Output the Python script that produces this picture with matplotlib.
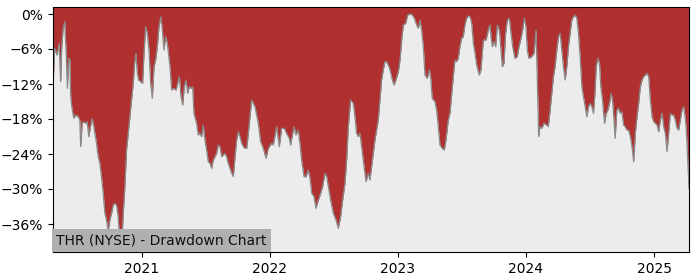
import matplotlib
matplotlib.use("Agg")
import matplotlib.pyplot as plt
import matplotlib.dates as mdates
from matplotlib.ticker import FuncFormatter
import datetime as dt

# time as fractional years, drawdown in percent
years = [
    2020.307, 2020.320, 2020.333, 2020.339, 2020.354, 2020.367, 2020.375, 2020.385, 2020.398, 2020.411,
    2020.419, 2020.430, 2020.438, 2020.445, 2020.453, 2020.469, 2020.484, 2020.503, 2020.516, 2020.523,
    2020.534, 2020.547, 2020.563, 2020.573, 2020.586, 2020.599, 2020.612, 2020.625, 2020.646, 2020.659,
    2020.672, 2020.685, 2020.698, 2020.711, 2020.724, 2020.737, 2020.750, 2020.763, 2020.776, 2020.789,
    2020.802, 2020.815, 2020.828, 2020.841, 2020.854, 2020.867, 2020.880, 2020.893, 2020.906, 2020.919,
    2020.932, 2020.943, 2020.953, 2020.964, 2020.974, 2020.990, 2021.005, 2021.016, 2021.029, 2021.042,
    2021.055, 2021.068, 2021.081, 2021.094, 2021.107, 2021.120, 2021.133, 2021.148, 2021.159, 2021.172,
    2021.185, 2021.198, 2021.219, 2021.232, 2021.245, 2021.266, 2021.279, 2021.292, 2021.305, 2021.318,
    2021.331, 2021.344, 2021.357, 2021.370, 2021.383, 2021.396, 2021.406, 2021.427, 2021.440, 2021.453,
    2021.466, 2021.479, 2021.492, 2021.505, 2021.518, 2021.531, 2021.544, 2021.557, 2021.570, 2021.583,
    2021.596, 2021.609, 2021.622, 2021.635, 2021.648, 2021.661, 2021.674, 2021.688, 2021.701, 2021.714,
    2021.727, 2021.740, 2021.753, 2021.766, 2021.779, 2021.792, 2021.805, 2021.818, 2021.831, 2021.857,
    2021.883, 2021.909, 2021.927, 2021.948, 2021.969, 2021.987, 2022.013, 2022.026, 2022.052, 2022.073,
    2022.091, 2022.112, 2022.130, 2022.151, 2022.161, 2022.188, 2022.203, 2022.221, 2022.234, 2022.247,
    2022.266, 2022.281, 2022.299, 2022.313, 2022.326, 2022.344, 2022.359, 2022.378, 2022.396, 2022.411,
    2022.430, 2022.443, 2022.456, 2022.474, 2022.495, 2022.516, 2022.534, 2022.552, 2022.568, 2022.586,
    2022.599, 2022.612, 2022.630, 2022.651, 2022.664, 2022.677, 2022.690, 2022.703, 2022.716, 2022.729,
    2022.750, 2022.768, 2022.781, 2022.794, 2022.807, 2022.820, 2022.833, 2022.846, 2022.859, 2022.872,
    2022.885, 2022.898, 2022.911, 2022.924, 2022.938, 2022.956, 2022.969, 2022.984, 2023.003, 2023.016,
    2023.029, 2023.042, 2023.060, 2023.076, 2023.094, 2023.112, 2023.128, 2023.146, 2023.159, 2023.172,
    2023.185, 2023.198, 2023.211, 2023.229, 2023.245, 2023.255, 2023.268, 2023.289, 2023.302, 2023.315,
    2023.328, 2023.346, 2023.362, 2023.375, 2023.393, 2023.406, 2023.432, 2023.445, 2023.458, 2023.471,
    2023.484, 2023.497, 2023.510, 2023.523, 2023.536, 2023.549, 2023.563, 2023.576, 2023.589, 2023.602,
    2023.615, 2023.635, 2023.648, 2023.667, 2023.688, 2023.706, 2023.719, 2023.727, 2023.737, 2023.750,
    2023.763, 2023.776, 2023.792, 2023.805, 2023.815, 2023.828, 2023.841, 2023.854, 2023.870, 2023.883,
    2023.896, 2023.914, 2023.932, 2023.945, 2023.958, 2023.974, 2023.987, 2024.000, 2024.010, 2024.023,
    2024.044, 2024.063, 2024.078, 2024.089, 2024.099, 2024.109, 2024.122, 2024.141, 2024.161, 2024.174,
    2024.188, 2024.201, 2024.214, 2024.227, 2024.240, 2024.253, 2024.266, 2024.279, 2024.292, 2024.305,
    2024.318, 2024.331, 2024.344, 2024.357, 2024.370, 2024.383, 2024.396, 2024.409, 2024.422, 2024.435,
    2024.448, 2024.461, 2024.474, 2024.487, 2024.500, 2024.513, 2024.526, 2024.539, 2024.547, 2024.560,
    2024.573, 2024.583, 2024.596, 2024.612, 2024.625, 2024.638, 2024.651, 2024.664, 2024.674, 2024.682,
    2024.695, 2024.708, 2024.721, 2024.734, 2024.747, 2024.760, 2024.773, 2024.786, 2024.799, 2024.813,
    2024.826, 2024.839, 2024.852, 2024.865, 2024.878, 2024.891, 2024.904, 2024.917, 2024.930, 2024.943,
    2024.956, 2024.969, 2024.982, 2024.995, 2025.008, 2025.021, 2025.034, 2025.047, 2025.060, 2025.073,
    2025.086, 2025.099, 2025.112, 2025.125, 2025.138, 2025.151, 2025.164, 2025.177, 2025.190, 2025.203,
    2025.216, 2025.229, 2025.242, 2025.250, 2025.260, 2025.271,
]

drawdown = [
    -12.46, -5.89, -6.74, -7.03, -5.03, -11.60, -5.60, -2.74, -1.31, -7.31,
    -12.74, -7.60, -7.89, -14.17, -15.89, -17.89, -17.31, -17.60, -18.17, -22.74,
    -18.74, -18.46, -18.74, -18.46, -21.03, -19.31, -17.89, -19.31, -22.17, -24.46,
    -25.60, -27.89, -30.74, -34.17, -35.31, -37.31, -35.31, -34.17, -32.74, -32.46,
    -32.74, -34.74, -39.89, -40.46, -34.17, -29.60, -23.31, -20.46, -17.60, -14.74,
    -11.89, -8.46, -6.74, -10.17, -11.31, -11.60, -11.89, -6.74, -2.17, -3.31,
    -6.17, -11.89, -14.46, -9.03, -7.89, -5.60, -2.17, -0.46, -2.74, -6.17,
    -3.89, -5.03, -9.03, -13.03, -12.74, -13.03, -11.89, -10.74, -14.17, -15.60,
    -12.46, -11.31, -13.60, -12.46, -12.74, -12.46, -17.03, -18.74, -20.74, -20.46,
    -21.03, -19.03, -21.60, -23.31, -25.31, -25.60, -26.46, -25.03, -24.46, -23.89,
    -22.46, -22.74, -24.46, -24.17, -23.89, -24.46, -25.60, -26.46, -27.31, -27.89,
    -24.46, -21.60, -20.17, -21.03, -22.17, -22.74, -23.03, -23.03, -20.46, -14.74,
    -15.89, -18.74, -21.89, -23.03, -24.74, -23.03, -22.17, -22.46, -19.31, -22.74,
    -19.60, -19.60, -20.46, -21.31, -22.46, -19.31, -20.74, -19.89, -22.17, -25.03,
    -27.89, -27.89, -26.74, -28.17, -30.74, -31.31, -33.31, -31.89, -30.74, -29.60,
    -27.31, -27.89, -29.60, -31.89, -34.17, -35.31, -36.74, -34.74, -31.89, -29.03,
    -25.03, -19.31, -14.74, -15.31, -17.60, -20.46, -21.03, -20.46, -22.74, -25.03,
    -28.74, -27.31, -28.46, -26.17, -23.89, -21.60, -19.89, -18.17, -14.74, -11.31,
    -9.60, -8.17, -8.17, -8.74, -9.60, -11.31, -12.17, -11.31, -9.89, -7.89,
    -4.46, -1.89, -1.60, -0.17, 0.00, -0.17, -0.74, -1.89, -2.46, -1.03,
    -2.74, -5.60, -10.46, -11.03, -9.60, -10.74, -14.46, -15.03, -16.46, -19.31,
    -22.46, -23.03, -23.31, -21.60, -18.17, -17.03, -10.74, -7.89, -8.17, -7.60,
    -5.60, -4.17, -3.89, -1.89, -0.74, -0.34, -0.46, -1.60, -5.03, -6.74,
    -8.74, -10.46, -9.60, -4.46, -4.46, -2.74, -1.89, -3.89, -5.60, -4.74,
    -5.60, -1.89, -2.74, -6.17, -9.03, -8.46, -3.31, -1.03, -0.74, -3.31,
    -5.60, -7.60, -7.31, -5.60, -4.46, -2.74, -0.74, -2.17, -6.17, -7.60,
    -7.31, -6.74, -2.74, -11.89, -21.03, -19.31, -19.60, -18.74, -19.03, -19.31,
    -16.46, -13.60, -10.74, -9.03, -6.17, -3.89, -3.31, -6.17, -9.03, -11.31,
    -9.03, -5.60, -3.31, -1.03, -0.46, -0.17, -0.74, -3.31, -7.31, -12.46,
    -14.17, -15.89, -17.60, -15.89, -15.31, -15.89, -17.03, -13.03, -9.03, -7.60,
    -8.46, -12.46, -14.74, -18.74, -17.03, -16.46, -15.31, -13.60, -14.74, -17.03,
    -21.31, -16.46, -16.17, -17.03, -16.74, -19.03, -19.31, -19.89, -19.89, -21.03,
    -22.74, -25.31, -20.46, -17.60, -15.31, -12.46, -11.31, -10.74, -10.46, -10.17,
    -10.74, -14.74, -17.60, -18.46, -18.74, -19.03, -20.17, -18.17, -17.03, -19.31,
    -20.46, -23.60, -20.46, -17.03, -17.31, -17.31, -18.17, -19.60, -19.89, -18.17,
    -16.46, -15.89, -17.89, -19.89, -24.46, -29.89,
]

y_ticks = [0, -6, -12, -18, -24, -30, -36]
year_ticks = [2021, 2022, 2023, 2024, 2025]
title_text = "THR (NYSE) - Drawdown Chart"


def frac_year_to_date(y):
    yr = int(y)
    start = dt.datetime(yr, 1, 1)
    end = dt.datetime(yr + 1, 1, 1)
    return start + (end - start) * (y - yr)


dates = [frac_year_to_date(y) for y in years]

fig = plt.figure(figsize=(7, 2.8), dpi=100)
ax = fig.add_axes([0.0757, 0.1, 0.9086, 0.875])
ax.set_facecolor("#ececec")

y_top = 1.2
ax.fill_between(dates, drawdown, y_top + 5, color="#b03030", linewidth=0)
ax.plot(dates, drawdown, color="#8a8a8a", linewidth=0.9)

ax.set_xlim(dates[0], dates[-1])
ax.set_ylim(-40.8, y_top)

ax.set_yticks(y_ticks)
ax.yaxis.set_major_formatter(FuncFormatter(lambda v, p: f"{v:.0f}%".replace("-", "\u2212")))
ax.set_xticks([dt.datetime(y, 1, 1) for y in year_ticks])
ax.xaxis.set_major_formatter(mdates.DateFormatter("%Y"))
ax.tick_params(labelsize=10)

ax.text(0.005, 0.018, title_text, transform=ax.transAxes, fontsize=10,
        ha="left", va="bottom", color="#111111",
        bbox=dict(facecolor="#b0b0b0", edgecolor="none", pad=3))

fig.savefig("out.png", dpi=100)
